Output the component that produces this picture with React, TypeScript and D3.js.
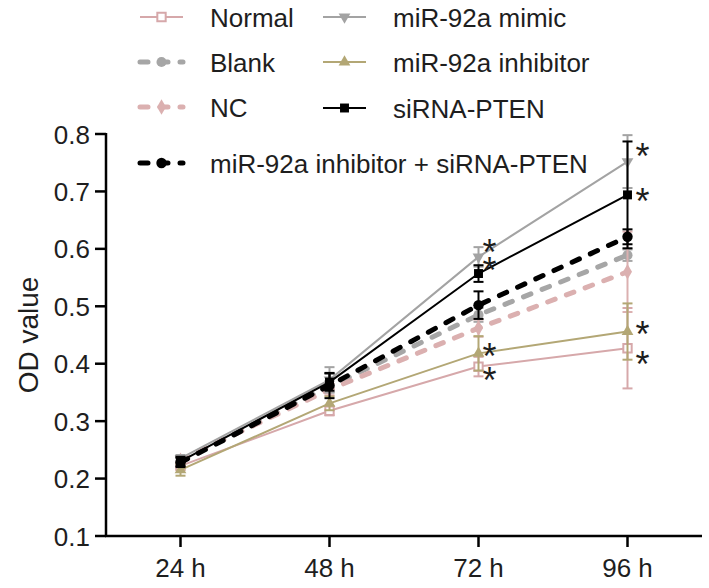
import React from 'react';
import * as d3 from 'd3';

const timepoints = ["24 h", "48 h", "72 h", "96 h"];
const yTicks = [0.1, 0.2, 0.3, 0.4, 0.5, 0.6, 0.7, 0.8];

const normalMean = [0.222, 0.318, 0.395, 0.427];
const normalErr = [0.006, 0.008, 0.017, 0.07];
const blankMean = [0.232, 0.36, 0.485, 0.589];
const blankErr = [0.006, 0.01, 0.012, 0.01];
const ncMean = [0.232, 0.355, 0.462, 0.56];
const ncErr = [0.006, 0.01, 0.015, 0.07];
const mimicMean = [0.235, 0.372, 0.586, 0.752];
const mimicErr = [0.006, 0.022, 0.017, 0.046];
const inhibMean = [0.215, 0.331, 0.418, 0.456];
const inhibErr = [0.01, 0.012, 0.03, 0.049];
const sirnaMean = [0.23, 0.368, 0.557, 0.694];
const sirnaErr = [0.008, 0.015, 0.0145, 0.093];
const comboMean = [0.228, 0.362, 0.502, 0.621];
const comboErr = [0.008, 0.022, 0.024, 0.013];

const starTimes = ["72 h", "72 h", "72 h", "72 h", "96 h", "96 h", "96 h", "96 h"];
const starValues = [0.607, 0.577, 0.427, 0.384, 0.774, 0.697, 0.464, 0.412];

const FONT = "'Liberation Sans', Arial, Helvetica, sans-serif";
const TXT = "#1e1e1e";

type Series = {
  name: string; mean: number[]; err: number[]; color: string; dashed: boolean;
  symbol: d3.SymbolType; rotate?: number; open?: boolean; size: number;
};

const series: Series[] = [
  { name: "Normal", mean: normalMean, err: normalErr, color: "#d6a8aa", dashed: false, symbol: d3.symbolSquare, open: true, size: 70 },
  { name: "Blank", mean: blankMean, err: blankErr, color: "#a6a6a6", dashed: true, symbol: d3.symbolCircle, size: 80 },
  { name: "NC", mean: ncMean, err: ncErr, color: "#dbb0b0", dashed: true, symbol: d3.symbolDiamond, size: 70 },
  { name: "miR-92a mimic", mean: mimicMean, err: mimicErr, color: "#a3a3a3", dashed: false, symbol: d3.symbolTriangle, rotate: 180, size: 60 },
  { name: "miR-92a inhibitor", mean: inhibMean, err: inhibErr, color: "#b3a775", dashed: false, symbol: d3.symbolTriangle, size: 60 },
  { name: "siRNA-PTEN", mean: sirnaMean, err: sirnaErr, color: "#000000", dashed: false, symbol: d3.symbolSquare, size: 80 },
  { name: "miR-92a inhibitor + siRNA-PTEN", mean: comboMean, err: comboErr, color: "#000000", dashed: true, symbol: d3.symbolCircle, size: 85 },
];

const W = 709, H = 588;
const left = 106, right = 702, top = 134, bottom = 536;

function Marker({ s, x, y }: { s: Series; x: number; y: number }) {
  const d = d3.symbol().type(s.symbol).size(s.size)() || "";
  return (
    <path d={d} transform={`translate(${x},${y}) rotate(${s.rotate || 0})`}
      fill={s.open ? "#fff" : s.color} stroke={s.color} strokeWidth={s.open ? 2 : 0} />
  );
}

export default function App() {
  const x = d3.scalePoint<string>().domain(timepoints).range([left, right]).padding(0.5);
  const y = d3.scaleLinear().domain([0.1, 0.8]).range([bottom, top]);
  const line = d3.line<number>().x((_, i) => x(timepoints[i]) as number).y(v => y(v));

  const legendItems = [
    { s: series[0], lx: 140, cy: 17, tx: 210 },
    { s: series[1], lx: 140, cy: 62, tx: 210 },
    { s: series[2], lx: 140, cy: 107, tx: 210 },
    { s: series[3], lx: 323, cy: 17, tx: 393 },
    { s: series[4], lx: 323, cy: 62, tx: 393 },
    { s: series[5], lx: 323, cy: 108, tx: 393 },
    { s: series[6], lx: 140, cy: 163, tx: 210 },
  ];

  return (
    <svg width={W} height={H} style={{ position: "absolute", left: 0, top: 0, background: "#fff" }}
      fontFamily={FONT}>
      <rect width={W} height={H} fill="#fff" />
      {/* axes */}
      <line x1={left} x2={left} y1={top - 1} y2={bottom + 1} stroke="#000" strokeWidth={2.5} />
      <line x1={left - 1} x2={right} y1={bottom} y2={bottom} stroke="#000" strokeWidth={2.5} />
      {yTicks.map(t => (
        <g key={t}>
          <line x1={left - 11} x2={left} y1={y(t)} y2={y(t)} stroke="#000" strokeWidth={2.5} />
          <text x={left - 16} y={y(t) + 9.5} textAnchor="end" fontSize={26} fill={TXT}>{t.toFixed(1)}</text>
        </g>
      ))}
      {timepoints.map(t => (
        <g key={t}>
          <line x1={x(t)} x2={x(t)} y1={bottom} y2={bottom + 11} stroke="#000" strokeWidth={2.5} />
          <text x={x(t)} y={bottom + 41} textAnchor="middle" fontSize={26} fill={TXT}>{t}</text>
        </g>
      ))}
      <text transform={`translate(38,${(top + bottom) / 2}) rotate(-90)`} textAnchor="middle"
        fontSize={28} fill={TXT}>OD value</text>

      {/* series */}
      {series.map(s => (
        <g key={s.name}>
          {s.mean.map((m, i) => {
            const cx = x(timepoints[i]) as number;
            return (
              <g key={i} stroke={s.color} strokeWidth={2}>
                <line x1={cx} x2={cx} y1={y(m - s.err[i])} y2={y(m + s.err[i])} />
                <line x1={cx - 5} x2={cx + 5} y1={y(m - s.err[i])} y2={y(m - s.err[i])} />
                <line x1={cx - 5} x2={cx + 5} y1={y(m + s.err[i])} y2={y(m + s.err[i])} />
              </g>
            );
          })}
          <path d={line(s.mean) || ""} fill="none" stroke={s.color}
            strokeWidth={s.dashed ? 5 : 2} strokeDasharray={s.dashed ? "8 12" : undefined}
            strokeLinecap={s.dashed ? "round" : "butt"} />
          {s.mean.map((m, i) => <Marker key={i} s={s} x={x(timepoints[i]) as number} y={y(m)} />)}
        </g>
      ))}

      {/* significance marks */}
      {starTimes.map((t, i) => (
        <text key={i} x={(x(t) as number) + (t === "96 h" ? 15 : 11)} y={y(starValues[i]) + 20.5}
          textAnchor="middle" fontSize={36} fill={TXT}>*</text>
      ))}

      {/* legend */}
      {legendItems.map(({ s, lx, cy, tx }) => (
        <g key={s.name}>
          <line x1={lx} x2={lx + 43} y1={cy} y2={cy} stroke={s.color}
            strokeWidth={s.dashed ? 5 : 2} strokeDasharray={s.dashed ? "8 12" : undefined}
            strokeLinecap={s.dashed ? "round" : "butt"} />
          <Marker s={s} x={lx + 21.5} y={cy} />
          <text x={tx} y={cy + 9.5} fontSize={26} fill={TXT}>{s.name}</text>
        </g>
      ))}
    </svg>
  );
}
